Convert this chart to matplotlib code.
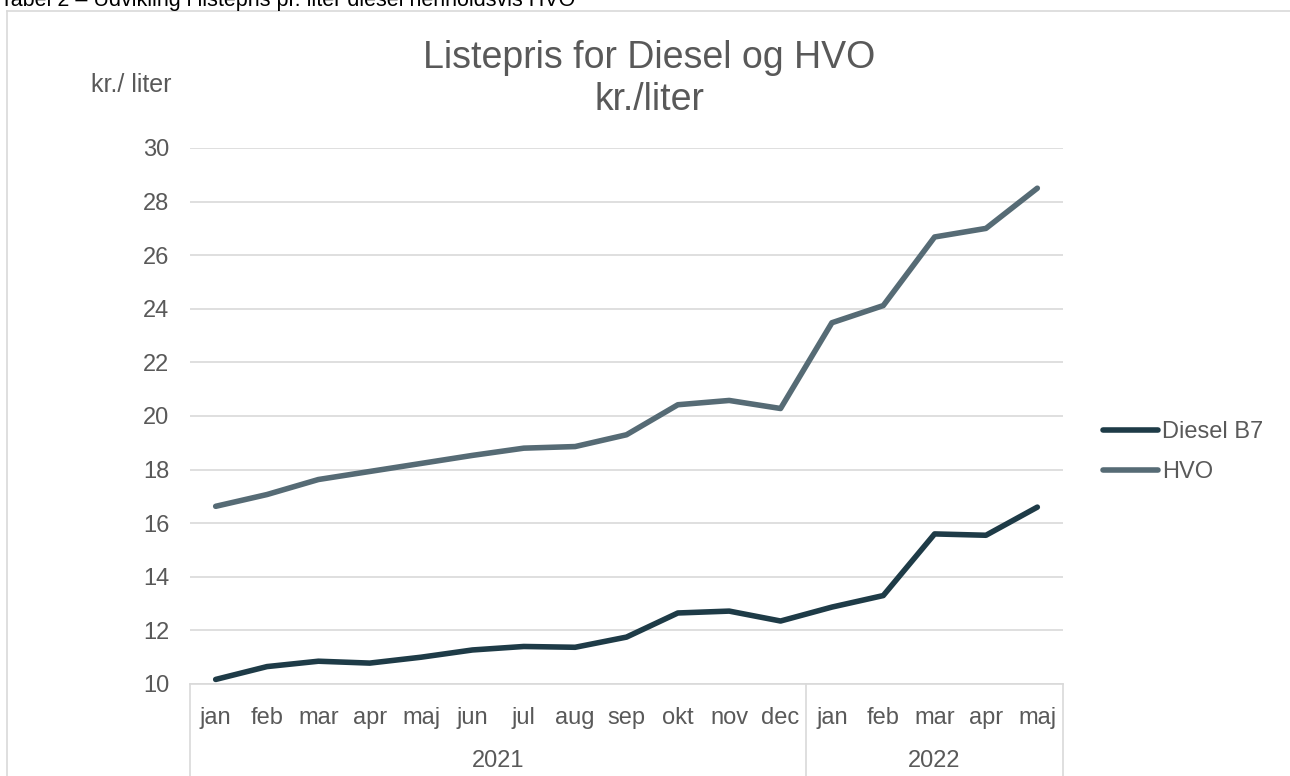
import matplotlib.pyplot as plt
from matplotlib.lines import Line2D
from matplotlib.transforms import blended_transform_factory

plt.rcParams["font.family"] = ["Liberation Sans", "DejaVu Sans"]

MONTHS = ["jan", "feb", "mar", "apr", "maj", "jun", "jul", "aug", "sep",
          "okt", "nov", "dec", "jan", "feb", "mar", "apr", "maj"]
YEARS = [("2021", 0, 11), ("2022", 12, 16)]

DIESEL_B7 = [10.17, 10.65, 10.85, 10.78, 11.0, 11.27, 11.4, 11.37, 11.75,
             12.65, 12.72, 12.35, 12.87, 13.3, 15.6, 15.55, 16.6]
HVO = [16.63, 17.07, 17.63, 17.93, 18.23, 18.53, 18.8, 18.86, 19.3,
       20.42, 20.58, 20.28, 23.48, 24.12, 26.68, 27.0, 28.5]

TEXT = "#595959"
GRID = "#d9d9d9"
C_DIESEL = "#1e3b47"
C_HVO = "#566b75"
FS = 17

W, H = 1290, 776
fig = plt.figure(figsize=(W / 100, H / 100), dpi=100)

# outer chart frame (cut off at right/bottom)
fig.add_artist(Line2D([7 / W, 7 / W], [0, 1 - 11 / H], color=GRID, lw=1.2))
fig.add_artist(Line2D([7 / W, 1], [1 - 11 / H, 1 - 11 / H], color=GRID, lw=1.2))

# caption above chart, mostly cropped
fig.text(0, 1 - 6 / H, "Tabel 2 \u2013 Udvikling i listepris pr. liter diesel henholdsvis HVO",
         fontsize=15.5, color="black", va="baseline", ha="left")

left, right, top, bottom = 190, 1063, 148, 684
ax = fig.add_axes([left / W, 1 - bottom / H, (right - left) / W, (bottom - top) / H])
ph = bottom - top

x = list(range(len(MONTHS)))
l1, = ax.plot(x, DIESEL_B7, color=C_DIESEL, lw=4, solid_capstyle="round",
              solid_joinstyle="round", clip_on=False, label="Diesel B7")
l2, = ax.plot(x, HVO, color=C_HVO, lw=4, solid_capstyle="round",
              solid_joinstyle="round", clip_on=False, label="HVO")

ax.set_xlim(-0.5, len(MONTHS) - 0.5)
ax.set_ylim(10, 30)
ax.set_yticks(range(10, 31, 2))
ax.yaxis.grid(True, color=GRID, lw=1.2)
ax.set_axisbelow(True)
for s in ["top", "right", "left"]:
    ax.spines[s].set_visible(False)
ax.spines["bottom"].set_color(GRID)
ax.spines["bottom"].set_linewidth(1.2)
ax.tick_params(axis="y", length=0, pad=15, labelsize=FS, labelcolor=TEXT)
ax.set_xticks([])

# two-level category axis
trans = blended_transform_factory(ax.transData, ax.transAxes)
for i, m in enumerate(MONTHS):
    ax.text(i, -34 / ph, m, transform=trans, ha="center", va="center",
            fontsize=FS, color=TEXT)
for label, i0, i1 in YEARS:
    ax.text((i0 + i1) / 2, -77 / ph, label, transform=trans,
            ha="center", va="center", fontsize=FS, color=TEXT)
for xb in [-0.5, 11.5, len(MONTHS) - 0.5]:
    ax.add_line(Line2D([xb, xb], [0, -(H - bottom) / ph], transform=trans,
                       color=GRID, lw=1.2, clip_on=False))

fig.text(649 / W, 1 - 58 / H, "Listepris for Diesel og HVO",
         ha="center", va="center", fontsize=27, color=TEXT)
fig.text(649 / W, 1 - 100 / H, "kr./liter",
         ha="center", va="center", fontsize=27, color=TEXT)
fig.text(91 / W, 1 - 85 / H, "kr./ liter", fontsize=18, color=TEXT,
         ha="left", va="center")

fig.legend(handles=[l1, l2], loc="center left",
           bbox_to_anchor=(1103 / W, 1 - 452 / H), frameon=False,
           fontsize=FS, labelcolor=TEXT, handlelength=2.35, handletextpad=0.15,
           labelspacing=0.75, borderpad=0, borderaxespad=0)

fig.savefig("out.png", dpi=100)
